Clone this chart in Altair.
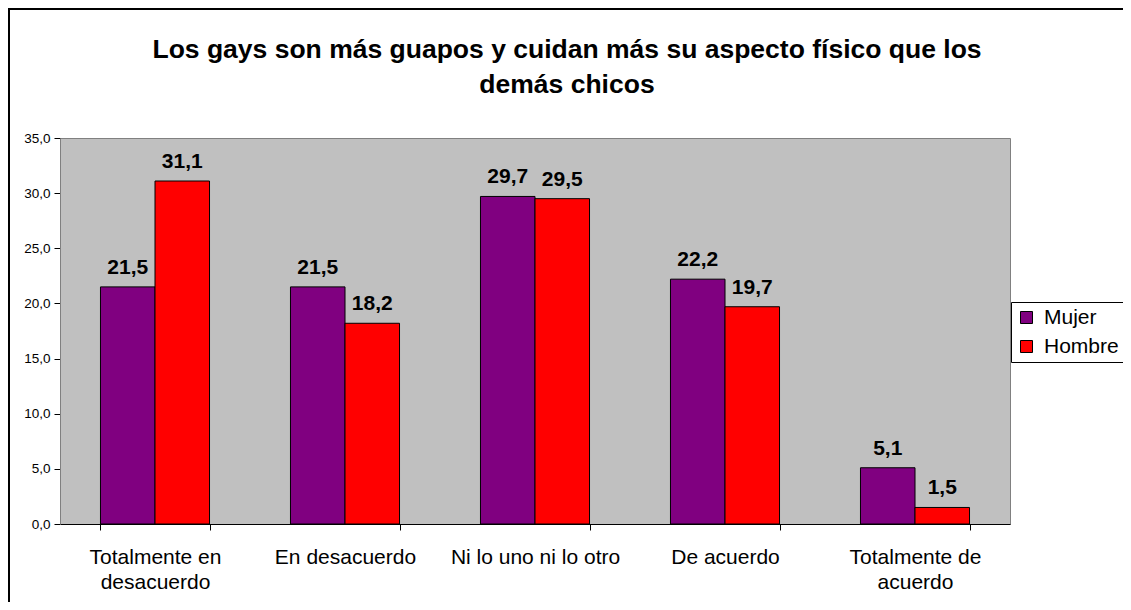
import altair as alt
import pandas as pd

categorias = ["Totalmente en desacuerdo", "En desacuerdo", "Ni lo uno ni lo otro",
              "De acuerdo", "Totalmente de acuerdo"]
etiquetas = [["Totalmente en", "desacuerdo"], ["En desacuerdo"], ["Ni lo uno ni lo otro"],
             ["De acuerdo"], ["Totalmente de", "acuerdo"]]
series = ["Mujer", "Hombre"]
mujer = [21.5, 21.5, 29.7, 22.2, 5.1]
hombre = [31.1, 18.2, 29.5, 19.7, 1.5]
colores = ["#800080", "#FF0000"]
titulo = "Los gays son más guapos y cuidan más su aspecto físico que los\ndemás chicos"

rows = []
for c, m, h in zip(categorias, mujer, hombre):
    rows.append({"categoria": c, "sexo": "Mujer", "valor": m})
    rows.append({"categoria": c, "sexo": "Hombre", "valor": h})
df = pd.DataFrame(rows)

FONT = "Liberation Sans"
W, H = 950, 386

# label expression for multi-line category labels
parts = []
for c, lab in zip(categorias, etiquetas):
    arr = "[" + ",".join("'" + s + "'" for s in lab) + "]"
    parts.append(f"datum.value == '{c}' ? {arr} : ")
label_expr = "".join(parts) + "datum.value"

x_enc = alt.X("categoria:N", sort=categorias, title=None,
              scale=alt.Scale(paddingInner=0.426, paddingOuter=0.213),
              axis=alt.Axis(labelAngle=0, labelFont=FONT, labelFontSize=21, labelColor="black",
                            labelPadding=16, labelLineHeight=25, labelExpr=label_expr,
                            tickBand="extent", tickSize=6, tickColor="black",
                            domainColor="black", labelLimit=300))
xoff = alt.XOffset("sexo:N", sort=series, scale=alt.Scale(paddingInner=0, paddingOuter=0))
y_enc = alt.Y("valor:Q", title=None,
              scale=alt.Scale(domain=[0, 35], nice=False),
              axis=alt.Axis(values=[0, 5, 10, 15, 20, 25, 30, 35], grid=False,
                            labelExpr="replace(format(datum.value,'.1f'),'.',',')",
                            labelFont=FONT, labelFontSize=13.5, labelColor="black",
                            labelPadding=4, tickSize=6, tickColor="black",
                            domainColor="#808080"))

base = alt.Chart(df)

bars = base.mark_bar(stroke="black", strokeWidth=1).encode(
    x=x_enc, xOffset=xoff, y=y_enc,
    color=alt.Color("sexo:N", sort=series,
                    scale=alt.Scale(domain=series, range=colores),
                    legend=alt.Legend(title=None, orient="none", legendX=951, legendY=164,
                                      symbolType="square", symbolSize=144,
                                      symbolStrokeColor="black", symbolStrokeWidth=1,
                                      labelFont=FONT, labelFontSize=21, labelColor="black",
                                      labelOffset=7, rowPadding=7, padding=5,
                                      strokeColor="black", fillColor="white")),
)

texts = base.transform_calculate(
    lab="replace(format(datum.valor,'.1f'),'.',',')"
).mark_text(font=FONT, fontSize=21, fontWeight="bold", baseline="alphabetic",
            dy=-13, color="black").encode(
    x=alt.X("categoria:N", sort=categorias),
    xOffset=alt.XOffset("sexo:N", sort=series),
    y=alt.Y("valor:Q"),
    text="lab:N",
)

title_mark = alt.Chart(alt.Data(values=[{"t": titulo}])).mark_text(
    font=FONT, fontSize=26.5, fontWeight="bold", color="black", align="center",
    baseline="alphabetic", lineBreak="\n", lineHeight=35
).encode(x=alt.value(507), y=alt.value(-80), text="t:N")

frame_data = alt.Data(values=[{"k": 1}])
left_line = alt.Chart(frame_data).mark_rule(color="black", strokeWidth=2).encode(
    x=alt.value(-51), y=alt.value(-129), y2=alt.value(H + 200))
top_line = alt.Chart(frame_data).mark_rule(color="black", strokeWidth=2).encode(
    x=alt.value(-52), x2=alt.value(W + 200), y=alt.value(-129))

chart = alt.layer(bars, texts, title_mark, left_line, top_line).properties(
    width=W, height=H,
    background="white",
    autosize=alt.AutoSizeParams(type="none"),
    padding={"left": 52, "top": 130, "right": 113, "bottom": 78},
).configure_view(fill="#C0C0C0", stroke="#808080", strokeWidth=1)

chart.save("out.html", embed_options={"renderer": "svg", "actions": False})
